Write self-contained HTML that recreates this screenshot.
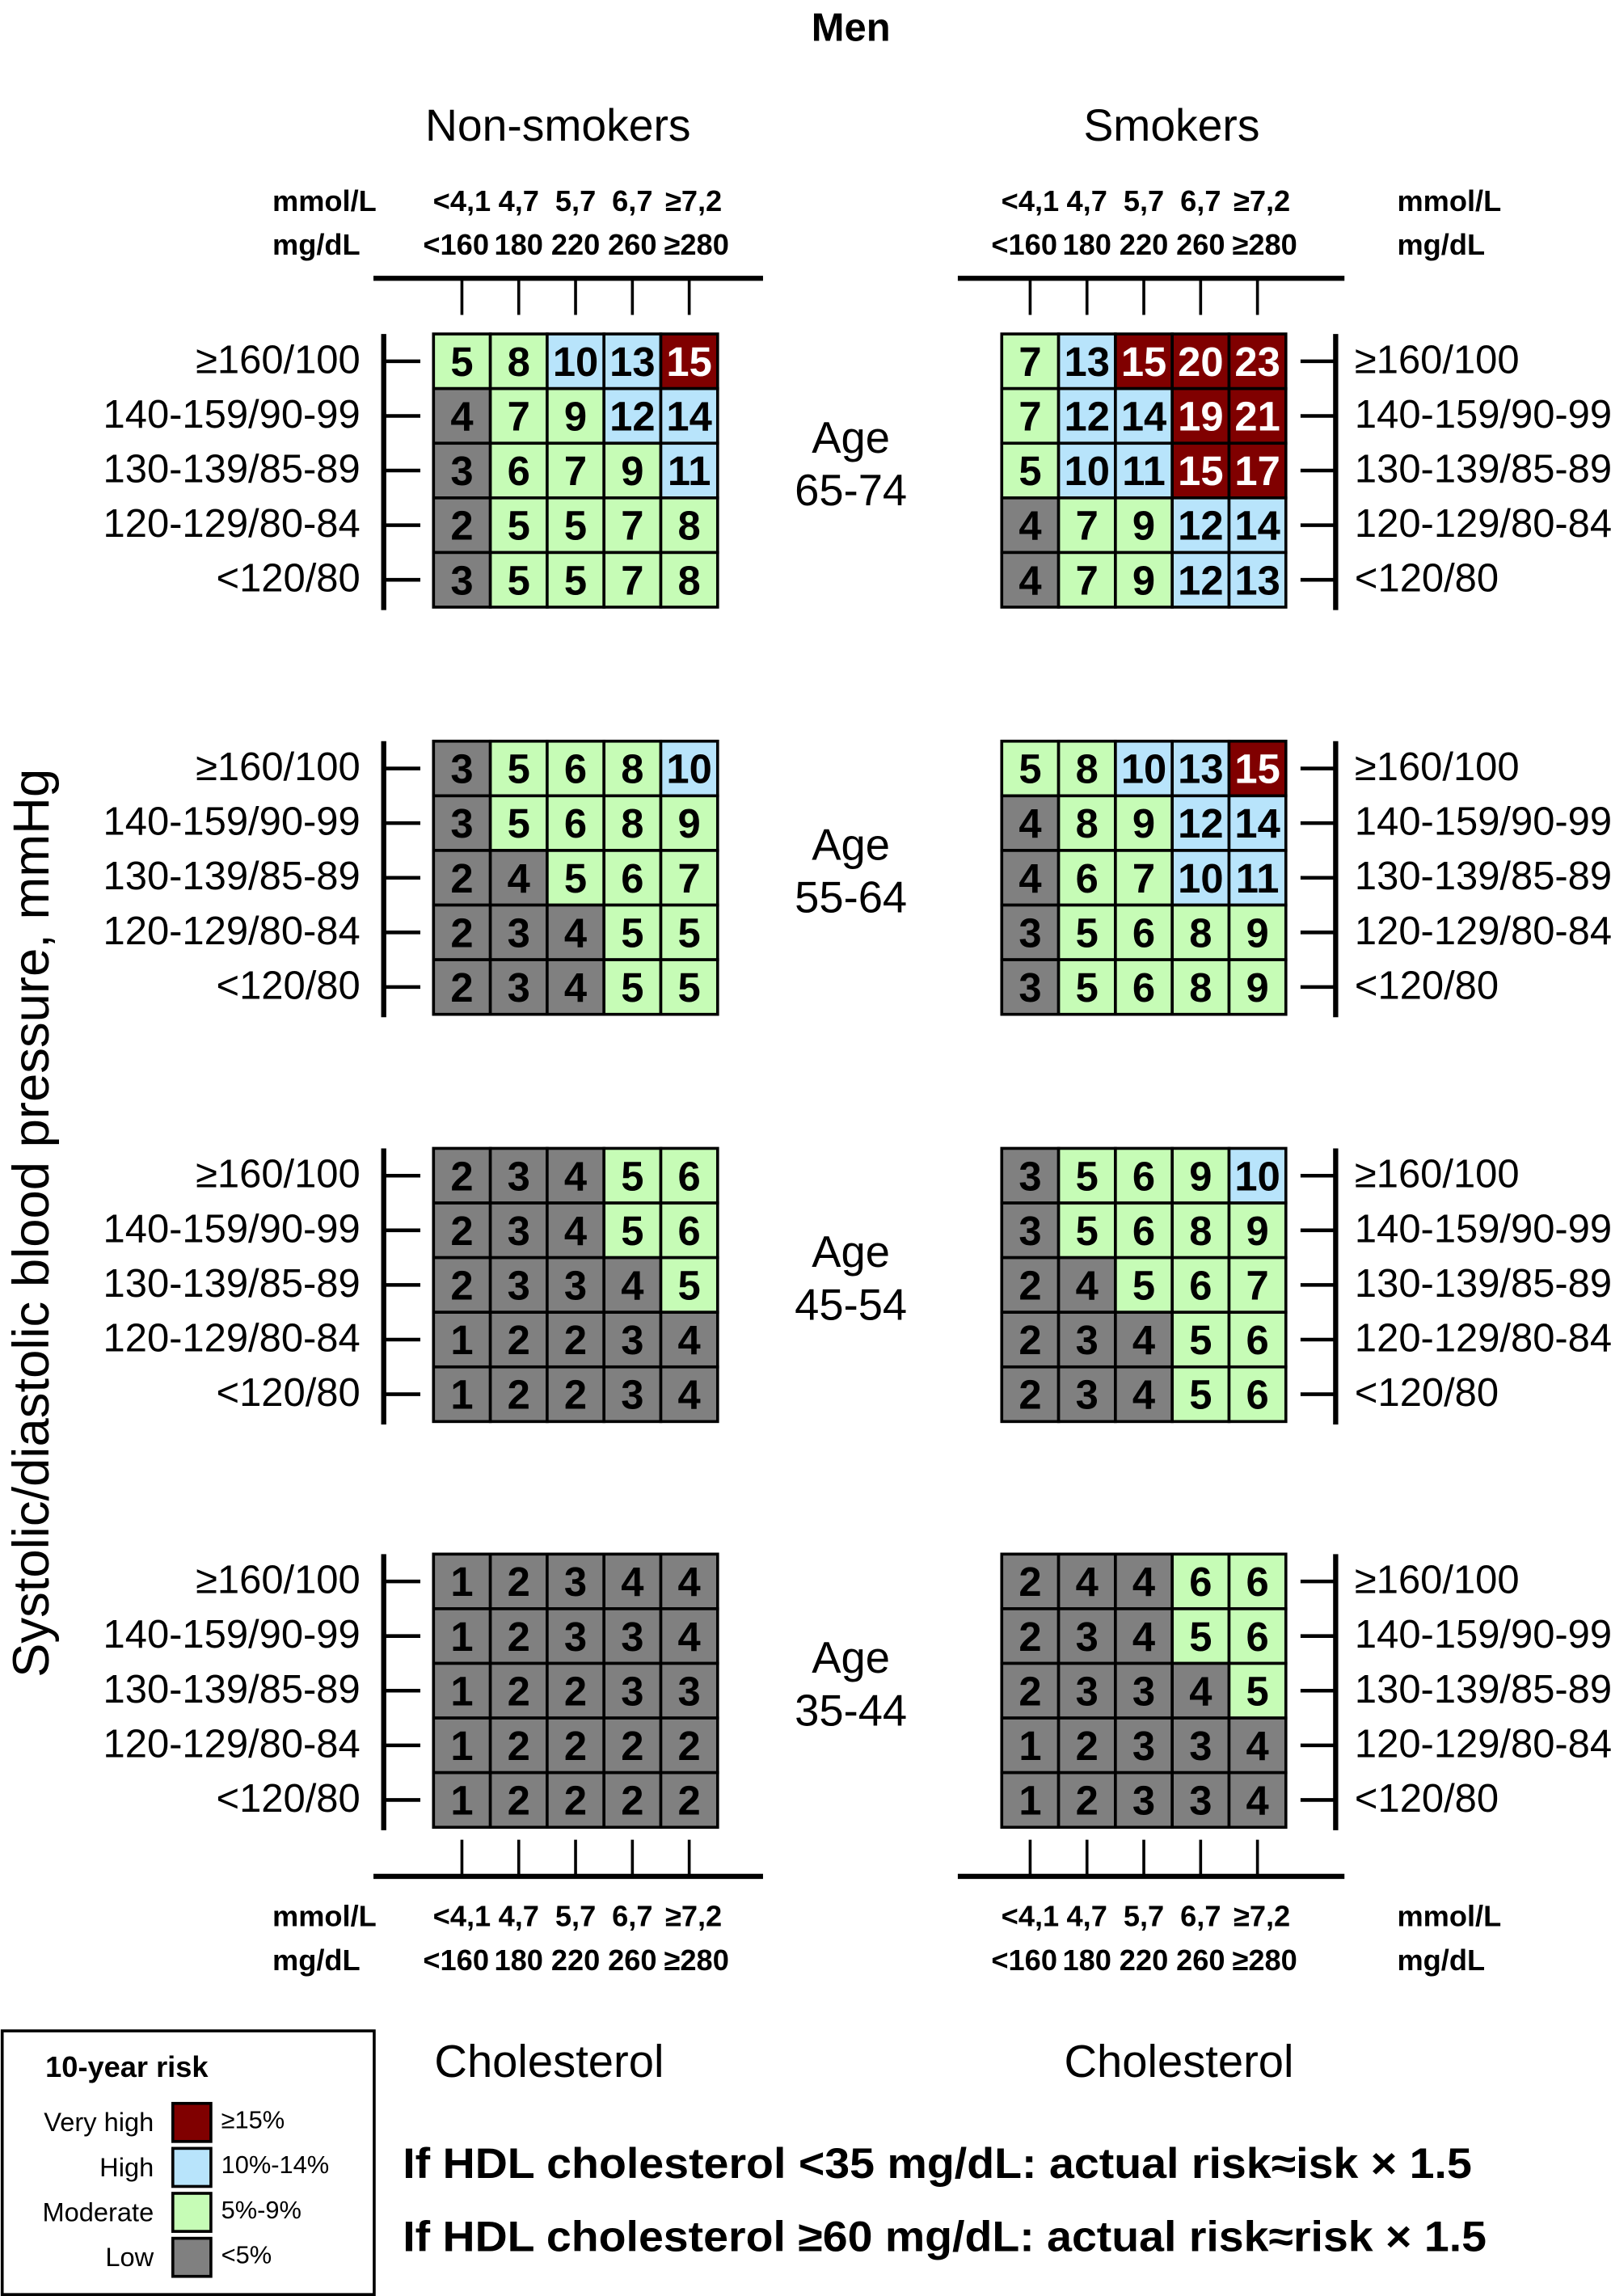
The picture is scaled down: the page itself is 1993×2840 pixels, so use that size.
<!DOCTYPE html>
<html><head><meta charset="utf-8">
<style>
html,body{margin:0;padding:0;background:#fff;}
svg{display:block;}
text{font-family:"Liberation Sans",sans-serif;}
</style></head>
<body>
<svg id="chart" width="1993" height="2840" viewBox="0 0 1100 1567.5" preserveAspectRatio="none" xmlns="http://www.w3.org/2000/svg">
<text x="581" y="28" font-size="27" font-weight="bold" text-anchor="middle">Men</text>
<text x="381" y="96" font-size="30.5" text-anchor="middle">Non-smokers</text>
<text x="800" y="96" font-size="30.5" text-anchor="middle">Smokers</text>
<text transform="translate(33,835) rotate(-90)" font-size="35" text-anchor="middle">Systolic/diastolic blood pressure, mmHg</text>
<text x="375" y="1418" font-size="31" text-anchor="middle">Cholesterol</text>
<text x="805" y="1418" font-size="31" text-anchor="middle">Cholesterol</text>
<text x="275" y="1487" font-size="29" font-weight="bold" textLength="730" lengthAdjust="spacingAndGlyphs">If HDL cholesterol &lt;35 mg/dL: actual risk≈isk × 1.5</text>
<text x="275" y="1537" font-size="29" font-weight="bold" textLength="740" lengthAdjust="spacingAndGlyphs">If HDL cholesterol ≥60 mg/dL: actual risk≈risk × 1.5</text>
<g id="legend">
<rect x="1.5" y="1386.5" width="254" height="180" fill="none" stroke="#000" stroke-width="2"/>
<text x="31" y="1418" font-size="20" font-weight="bold">10-year risk</text>
</g>
<g id="content"></g>
</svg>
<script>
const rowLabels = ["≥160/100","140-159/90-99","130-139/85-89","120-129/80-84","<120/80"];
const mmolTicks = ["<4,1","4,7","5,7","6,7","≥7,2"];
const mgTicks = ["<160","180","220","260","≥280"];
const ageGroups = ["65-74","55-64","45-54","35-44"];
const nonSmokers6574 = [[5,8,10,13,15],[4,7,9,12,14],[3,6,7,9,11],[2,5,5,7,8],[3,5,5,7,8]];
const smokers6574 = [[7,13,15,20,23],[7,12,14,19,21],[5,10,11,15,17],[4,7,9,12,14],[4,7,9,12,13]];
const nonSmokers5564 = [[3,5,6,8,10],[3,5,6,8,9],[2,4,5,6,7],[2,3,4,5,5],[2,3,4,5,5]];
const smokers5564 = [[5,8,10,13,15],[4,8,9,12,14],[4,6,7,10,11],[3,5,6,8,9],[3,5,6,8,9]];
const nonSmokers4554 = [[2,3,4,5,6],[2,3,4,5,6],[2,3,3,4,5],[1,2,2,3,4],[1,2,2,3,4]];
const smokers4554 = [[3,5,6,9,10],[3,5,6,8,9],[2,4,5,6,7],[2,3,4,5,6],[2,3,4,5,6]];
const nonSmokers3544 = [[1,2,3,4,4],[1,2,3,3,4],[1,2,2,3,3],[1,2,2,2,2],[1,2,2,2,2]];
const smokers3544 = [[2,4,4,6,6],[2,3,4,5,6],[2,3,3,4,5],[1,2,3,3,4],[1,2,3,3,4]];
const legendNames = ["Very high","High","Moderate","Low"];
const legendRanges = ["≥15%","10%-14%","5%-9%","<5%"];

const NS = "http://www.w3.org/2000/svg";
const root = document.getElementById('content');
function mk(tag, attrs, parent){const e=document.createElementNS(NS,tag);for(const k in attrs)e.setAttribute(k,attrs[k]);(parent||root).appendChild(e);return e;}
function color(v){return v>=15?"#800000":v>=10?"#b8e4fb":v>=5?"#c6fcb6":"#808080";}
const legendColors=["#800000","#b8e4fb","#c6fcb6","#808080"];

const cellW=38.8, cellH=37.3;
const panelTops=[228,506,784,1061];
const gridX=[296,684];
function colX(side,c){return gridX[side]+c*cellW;}
function rowY(p,r){return panelTops[p]+r*cellH;}

const nsData=[nonSmokers6574,nonSmokers5564,nonSmokers4554,nonSmokers3544];
const sData=[smokers6574,smokers5564,smokers4554,smokers3544];

for(let p=0;p<4;p++){
  [nsData[p],sData[p]].forEach((grid,side)=>{
    const g=mk('g',{});
    
    
    for(let r=0;r<5;r++)for(let c=0;c<5;c++){
      const v=grid[r][c];
      const rc=mk('rect',{x:colX(side,c),y:rowY(p,r),width:cellW,height:cellH,fill:color(v),stroke:"#000","stroke-width":2},g);
      
      
      const t=mk('text',{x:colX(side,c)+cellW/2,y:rowY(p,r)+cellH/2+10,"font-size":28,"font-weight":"bold","text-anchor":"middle",fill:v>=15?"#fff":"#000"},g);
      
      
      t.textContent=v;
    }
    const ax = side?912:262;
    const ln=mk('line',{x1:ax,x2:ax,y1:rowY(p,0),y2:rowY(p,5)+2,stroke:"#000","stroke-width":3.5});
    
    
    for(let r=0;r<5;r++){
      const cy=rowY(p,r)+cellH/2;
      const tk=mk('line',{x1:side?888:262,x2:side?912:287,y1:cy,y2:cy,stroke:"#000","stroke-width":2.5});
      
      
      const lb=mk('text',{x:side?925:246,y:cy+8,"font-size":27,"text-anchor":side?"start":"end"});
      
      
      lb.textContent=rowLabels[r];
    }
  });
  const a1=mk('text',{x:581,y:panelTops[p]+81,"font-size":30,"text-anchor":"middle"});
  
  
  a1.textContent="Age";
  const a2=mk('text',{x:581,y:panelTops[p]+117,"font-size":30,"text-anchor":"middle"});
  
  
  a2.textContent=ageGroups[p];
}

[[190,215,137,167],[1281,1256,1308,1338]].forEach(([ly,ty,y1,y2])=>{
  [0,1].forEach(side=>{
    const x0=side?654:255, x1=side?918:521;
    const l=mk('line',{x1:x0,x2:x1,y1:ly,y2:ly,stroke:"#000","stroke-width":3.5});
    
    
    for(let c=0;c<5;c++){
      const cx=colX(side,c)+cellW/2;
      const t=mk('line',{x1:cx,x2:cx,y1:ly,y2:ty,stroke:"#000","stroke-width":2});
      
      
      const m=mk('text',{x:cx+(c==4?3:0),y:y1+7,"font-size":20,"font-weight":"bold","text-anchor":"middle"});
      
      
      m.textContent=mmolTicks[c];
      const g=mk('text',{x:cx+(c==4?5:c==0?-4:0),y:y2+7,"font-size":20,"font-weight":"bold","text-anchor":"middle"});
      
      
      g.textContent=mgTicks[c];
    }
    const ux=side?954:186;
    const u1=mk('text',{x:ux,y:y1+7,"font-size":20,"font-weight":"bold"});
    
    
    u1.textContent="mmol/L";
    const u2=mk('text',{x:ux,y:y2+7,"font-size":20,"font-weight":"bold"});
    
    
    u2.textContent="mg/dL";
  });
});

const lg=document.getElementById('legend');
for(let i=0;i<4;i++){
  const y=1436+i*30.7;
  const r=mk('rect',{x:118,y:y,width:26,height:26,fill:legendColors[i],stroke:"#000","stroke-width":2},lg);
  
  
  const n=mk('text',{x:105,y:y+19,"font-size":18,"text-anchor":"end"},lg);
  
  
  n.textContent=legendNames[i];
  const v=mk('text',{x:151,y:y+17,"font-size":17},lg);
  
  
  v.textContent=legendRanges[i];
}
</script>
</body></html>
